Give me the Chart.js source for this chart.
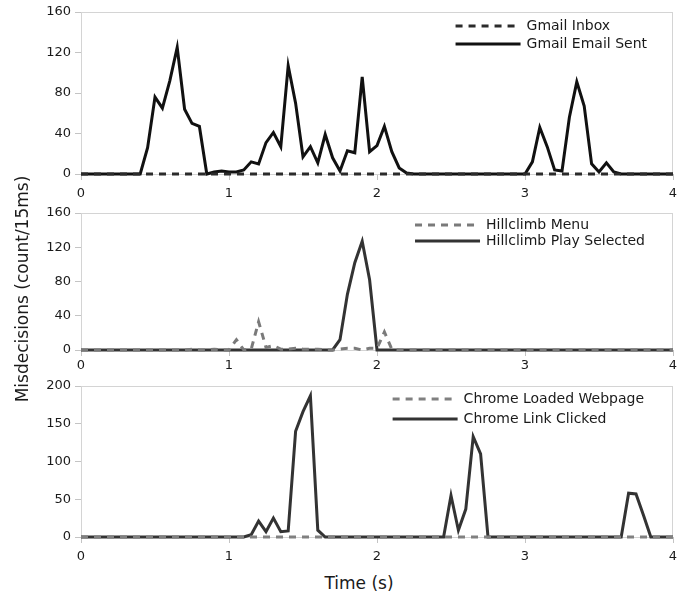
<!DOCTYPE html>
<html>
<head>
<meta charset="utf-8">
<script src="https://cdn.jsdelivr.net/npm/chart.js@4/dist/chart.umd.min.js"></script>
<style>
    html, body { margin: 0; padding: 0; background: #fff; }
    #wrap { position: relative; width: 692px; height: 597px; font-family: 'DejaVu Sans', sans-serif; color: #1a1a1a; }
    #wrap canvas { position: absolute; left: 0; }
    .ytitle { position: absolute; left: -128px; top: 279px; width: 300px; line-height: 20px; text-align: center; font-size: 17px; transform: rotate(-90deg); }
    .xtitle { position: absolute; left: 259px; top: 573px; width: 200px; line-height: 20px; text-align: center; font-size: 17px; }
</style>
</head>
<body>
<div id="wrap">
    <canvas id="c1" width="692" height="202" style="top:0px"></canvas>
    <canvas id="c2" width="692" height="177" style="top:201px"></canvas>
    <canvas id="c3" width="692" height="191" style="top:374px"></canvas>
    <div class="ytitle">Misdecisions (count/15ms)</div>
    <div class="xtitle">Time (s)</div>
</div>
<script>
// time axis (s), one sample every 0.05 s
const times = [
    0, 0.05, 0.1, 0.15, 0.2, 0.25, 0.3, 0.35, 0.4, 0.45,
    0.5, 0.55, 0.6, 0.65, 0.7, 0.75, 0.8, 0.85, 0.9, 0.95,
    1, 1.05, 1.1, 1.15, 1.2, 1.25, 1.3, 1.35, 1.4, 1.45,
    1.5, 1.55, 1.6, 1.65, 1.7, 1.75, 1.8, 1.85, 1.9, 1.95,
    2, 2.05, 2.1, 2.15, 2.2, 2.25, 2.3, 2.35, 2.4, 2.45,
    2.5, 2.55, 2.6, 2.65, 2.7, 2.75, 2.8, 2.85, 2.9, 2.95,
    3, 3.05, 3.1, 3.15, 3.2, 3.25, 3.3, 3.35, 3.4, 3.45,
    3.5, 3.55, 3.6, 3.65, 3.7, 3.75, 3.8, 3.85, 3.9, 3.95,
    4
];

// misdecisions per 15ms
const gmailInbox = [
    0, 0, 0, 0, 0, 0, 0, 0, 0, 0,
    0, 0, 0, 0, 0, 0, 0, 0, 0, 0,
    0, 0, 0, 0, 0, 0, 0, 0, 0, 0,
    0, 0, 0, 0, 0, 0, 0, 0, 0, 0,
    0, 0, 0, 0, 0, 0, 0, 0, 0, 0,
    0, 0, 0, 0, 0, 0, 0, 0, 0, 0,
    0, 0, 0, 0, 0, 0, 0, 0, 0, 0,
    0, 0, 0, 0, 0, 0, 0, 0, 0, 0,
    0
];
const gmailEmailSent = [
    0, 0, 0, 0, 0, 0, 0, 0, 0, 26,
    76, 65, 92, 125, 64, 50, 47, 0, 2, 3,
    2, 2, 4, 12, 10, 31, 41, 27, 107, 70,
    17, 27, 11, 39, 16, 3, 23, 21, 96, 22,
    28, 47, 22, 6, 1, 0, 0, 0, 0, 0,
    0, 0, 0, 0, 0, 0, 0, 0, 0, 0,
    0, 12, 46, 27, 4, 3, 56, 91, 67, 10,
    2, 11, 2, 0, 0, 0, 0, 0, 0, 0,
    0
];
const hillclimbMenu = [
    0, 0, 0, 0, 0, 0, 0, 0, 0, 0,
    0, 0, 0, 0, 0, 1, 0, 0, 1, 0,
    0, 12, 0, 1, 33, 3, 5, 1, 1, 2,
    1, 1, 1, 0, 0, 1, 2, 2, 0, 2,
    2, 21, 1, 0, 0, 0, 0, 0, 0, 0,
    0, 0, 0, 0, 0, 0, 0, 0, 0, 0,
    0, 0, 0, 0, 0, 0, 0, 0, 0, 0,
    0, 0, 0, 0, 0, 0, 0, 0, 0, 0,
    0
];
const hillclimbPlaySelected = [
    0, 0, 0, 0, 0, 0, 0, 0, 0, 0,
    0, 0, 0, 0, 0, 0, 0, 0, 0, 0,
    0, 0, 0, 0, 0, 0, 0, 0, 0, 0,
    0, 0, 0, 0, 0, 12, 65, 102, 127, 82,
    0, 0, 0, 0, 0, 0, 0, 0, 0, 0,
    0, 0, 0, 0, 0, 0, 0, 0, 0, 0,
    0, 0, 0, 0, 0, 0, 0, 0, 0, 0,
    0, 0, 0, 0, 0, 0, 0, 0, 0, 0,
    0
];
const chromeLoadedWebpage = [
    0, 0, 0, 0, 0, 0, 0, 0, 0, 0,
    0, 0, 0, 0, 0, 0, 0, 0, 0, 0,
    0, 0, 0, 0, 0, 0, 0, 0, 0, 0,
    0, 0, 0, 0, 0, 0, 0, 0, 0, 0,
    0, 0, 0, 0, 0, 0, 0, 0, 0, 0,
    0, 0, 0, 0, 0, 0, 0, 0, 0, 0,
    0, 0, 0, 0, 0, 0, 0, 0, 0, 0,
    0, 0, 0, 0, 0, 0, 0, 0, 0, 0,
    0
];
const chromeLinkClicked = [
    0, 0, 0, 0, 0, 0, 0, 0, 0, 0,
    0, 0, 0, 0, 0, 0, 0, 0, 0, 0,
    0, 0, 0, 3, 21, 7, 25, 7, 8, 140,
    166, 187, 9, 0, 0, 0, 0, 0, 0, 0,
    0, 0, 0, 0, 0, 0, 0, 0, 0, 0,
    55, 9, 37, 133, 110, 0, 0, 0, 0, 0,
    0, 0, 0, 0, 0, 0, 0, 0, 0, 0,
    0, 0, 0, 0, 58, 57, 29, 0, 0, 0,
    0
];

const xTicks = [0, 1, 2, 3, 4];
const yMax = [160, 160, 200];
const yStep = [40, 40, 50];

Chart.defaults.font.family = "'DejaVu Sans', sans-serif";
Chart.defaults.color = '#1a1a1a';

const AXIS_GRAY = '#c4c4c4';

// light frame round the plot area
const framePlugin = {
    id: 'frame',
    beforeDatasetsDraw(chart) {
        const a = chart.chartArea;
        const ctx = chart.ctx;
        ctx.save();
        ctx.strokeStyle = '#d4d4d4';
        ctx.lineWidth = 1;
        ctx.strokeRect(a.left + 0.5, a.top + 0.5, a.right - a.left - 1, a.bottom - a.top);
        ctx.restore();
    }
};

// legend drawn inside the plot, top right
const insideLegend = {
    id: 'insideLegend',
    afterDraw(chart, args, opts) {
        const ctx = chart.ctx;
        const a = chart.chartArea;
        const sets = chart.data.datasets;
        ctx.save();
        ctx.font = '14px "DejaVu Sans"';
        let maxW = 0;
        sets.forEach(ds => { maxW = Math.max(maxW, ctx.measureText(ds.label).width); });
        const textX = a.right - opts.rightGap - maxW;
        sets.forEach((ds, i) => {
            const y = a.top + opts.firstRow + i * opts.rowGap;
            ctx.strokeStyle = ds.borderColor;
            ctx.lineWidth = ds.borderWidth;
            ctx.setLineDash(ds.borderDash || []);
            ctx.beginPath();
            ctx.moveTo(textX - 71, y);
            ctx.lineTo(textX - 6, y);
            ctx.stroke();
            ctx.setLineDash([]);
            ctx.fillStyle = '#1a1a1a';
            ctx.textBaseline = 'middle';
            ctx.textAlign = 'left';
            ctx.fillText(ds.label, textX, y);
        });
        ctx.restore();
    }
};

function lineSet(label, values, color, dashed) {
    return {
        label: label,
        data: times.map((t, i) => ({ x: t, y: values[i] })),
        borderColor: color,
        borderWidth: 3,
        borderDash: dashed ? [7, 6] : [],
        borderJoinStyle: 'miter',
        pointRadius: 0,
        tension: 0,
        fill: false,
        clip: 4
    };
}

function makePanel(canvasId, datasets, idx, tickPad, legendOpts) {
    const ctx = document.getElementById(canvasId).getContext('2d');
    return new Chart(ctx, {
        type: 'line',
        data: { datasets: datasets },
        options: {
            responsive: false,
            animation: false,
            layout: { padding: { top: 12, right: 19, bottom: 0, left: 0 } },
            plugins: {
                legend: { display: false },
                tooltip: { enabled: false },
                insideLegend: legendOpts
            },
            scales: {
                x: {
                    type: 'linear',
                    min: 0,
                    max: 4,
                    afterBuildTicks: scale => { scale.ticks = xTicks.map(v => ({ value: v })); },
                    afterFit: scale => { scale.height = 28; },
                    ticks: { font: { size: 13 }, padding: tickPad, maxRotation: 0 },
                    grid: { drawOnChartArea: false, drawTicks: true, tickLength: 6, color: AXIS_GRAY },
                    border: { color: AXIS_GRAY }
                },
                y: {
                    min: 0,
                    max: yMax[idx],
                    afterFit: scale => { scale.width = 81; },
                    ticks: { stepSize: yStep[idx], font: { size: 13 }, padding: 4 },
                    grid: { drawOnChartArea: false, drawTicks: true, tickLength: 6, color: AXIS_GRAY },
                    border: { color: AXIS_GRAY }
                }
            }
        },
        plugins: [framePlugin, insideLegend]
    });
}

makePanel('c1', [
    lineSet('Gmail Inbox', gmailInbox, '#2b2b2b', true),
    lineSet('Gmail Email Sent', gmailEmailSent, '#111111', false)
], 0, 6, { firstRow: 14, rowGap: 18, rightGap: 26 });

makePanel('c2', [
    lineSet('Hillclimb Menu', hillclimbMenu, '#7a7a7a', true),
    lineSet('Hillclimb Play Selected', hillclimbPlaySelected, '#333333', false)
], 1, 2, { firstRow: 12, rowGap: 16, rightGap: 28 });

makePanel('c3', [
    lineSet('Chrome Loaded Webpage', chromeLoadedWebpage, '#808080', true),
    lineSet('Chrome Link Clicked', chromeLinkClicked, '#333333', false)
], 2, 6, { firstRow: 13, rowGap: 20, rightGap: 29 });
</script>
</body>
</html>
